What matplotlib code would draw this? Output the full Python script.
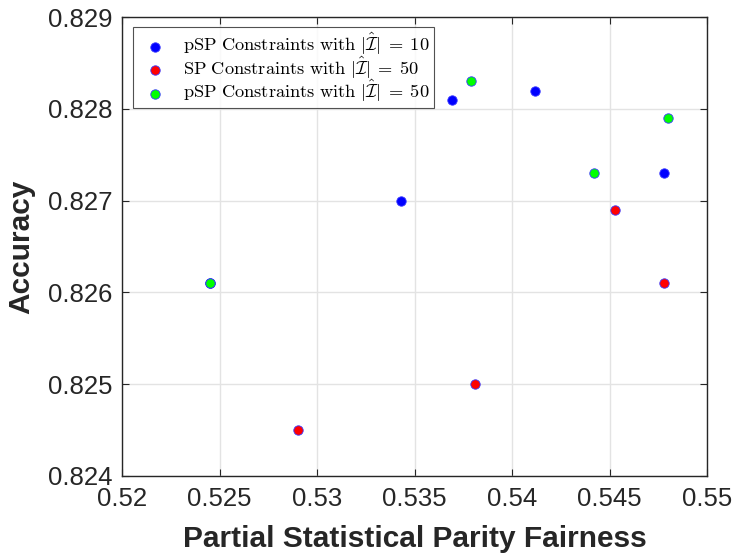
import matplotlib
matplotlib.use("Agg")
import matplotlib.pyplot as plt

plt.rcParams['font.family'] = ['Liberation Sans', 'DejaVu Sans']
plt.rcParams['mathtext.fontset'] = 'cm'

# data
psp10_x = [0.5245, 0.5343, 0.5369, 0.5412, 0.5478]
psp10_y = [0.8261, 0.8270, 0.8281, 0.8282, 0.8273]
sp50_x = [0.5245, 0.5290, 0.5381, 0.5453, 0.5478]
sp50_y = [0.8261, 0.8245, 0.8250, 0.8269, 0.8261]
psp50_x = [0.5245, 0.5379, 0.5442, 0.5480]
psp50_y = [0.8261, 0.8283, 0.8273, 0.8279]

labels = [r'$\mathrm{pSP\ Constraints\ with\ }|\hat{\mathcal{I}}|\;=\;10$',
          r'$\mathrm{SP\ Constraints\ with\ }|\hat{\mathcal{I}}|\;=\;50$',
          r'$\mathrm{pSP\ Constraints\ with\ }|\hat{\mathcal{I}}|\;=\;50$']

xticks = [0.52, 0.525, 0.53, 0.535, 0.54, 0.545, 0.55]
xticklabels = ['0.52', '0.525', '0.53', '0.535', '0.54', '0.545', '0.55']
yticks = [0.824, 0.825, 0.826, 0.827, 0.828, 0.829]

ink = '#262626'

fig = plt.figure(figsize=(7.35, 5.56), dpi=100)
ax = fig.add_axes([0.166, 0.144, 0.796, 0.825])

kw = dict(s=46, edgecolors='#3838ff', linewidths=0.6, zorder=3)
ax.scatter(psp10_x, psp10_y, c='#0000ff', label=labels[0], **kw)
ax.scatter(sp50_x, sp50_y, c='#ff0000', label=labels[1], **kw)
ax.scatter(psp50_x, psp50_y, c='#00ff00', label=labels[2], **kw)

ax.set_xlim(0.52, 0.55)
ax.set_ylim(0.824, 0.829)
ax.set_xticks(xticks)
ax.set_xticklabels(xticklabels)
ax.set_yticks(yticks)
ax.set_yticklabels(['%.3f' % v for v in yticks])
ax.tick_params(direction='in', labelsize=18.5, length=5, top=True, right=True,
               color=ink, labelcolor=ink)
ax.tick_params(axis='x', pad=8)
ax.tick_params(axis='y', pad=7)
ax.grid(True, color='#e3e3e3', linewidth=1)
ax.set_axisbelow(True)
for sp in ax.spines.values():
    sp.set_linewidth(1)
    sp.set_color(ink)

ax.set_xlabel('Partial Statistical Parity Fairness', fontsize=21.5,
              fontweight='bold', color=ink)
ax.set_ylabel('Accuracy', fontsize=21.5, fontweight='bold', color=ink)
ax.xaxis.set_label_coords(0.5, -0.108)
ax.yaxis.set_label_coords(-0.149, 0.5)

leg = ax.legend(loc='upper left', bbox_to_anchor=(0.019, 0.978), fontsize=13.2,
                frameon=True, fancybox=False, edgecolor=ink, borderaxespad=0,
                handletextpad=0.5, borderpad=0.22, labelspacing=-0.14,
                handlelength=2.0)
leg.get_frame().set_linewidth(0.8)

fig.savefig('out.png', dpi=100)
